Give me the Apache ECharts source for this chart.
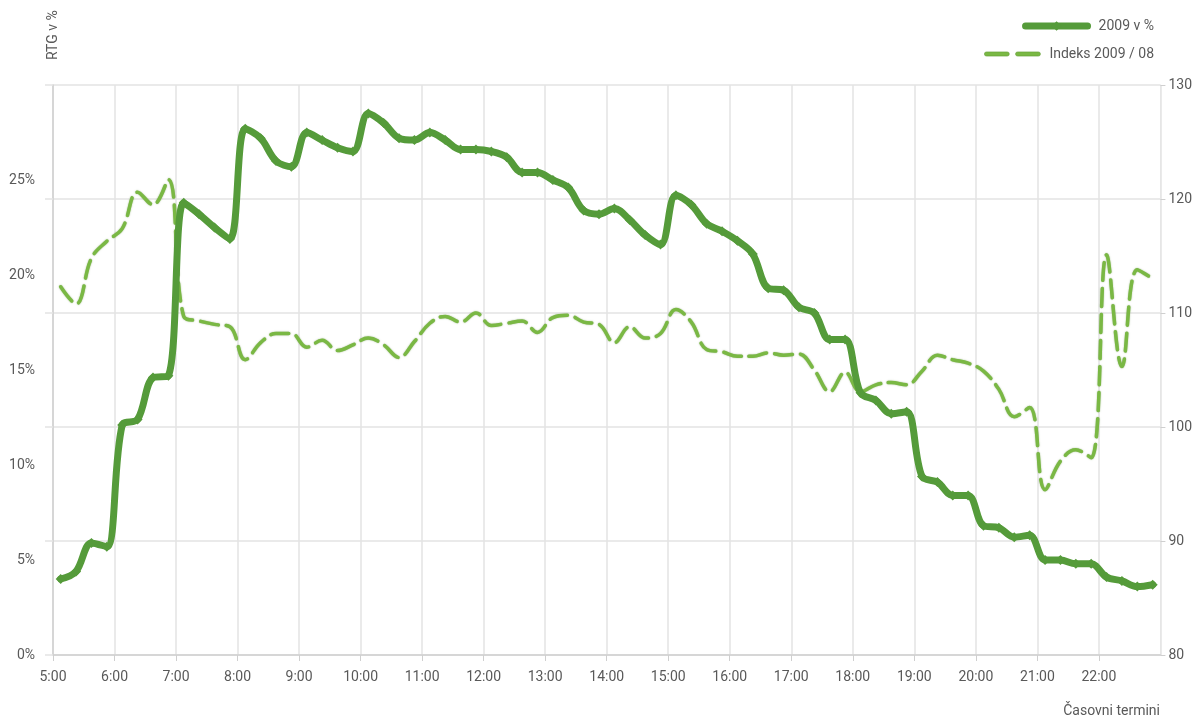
<!DOCTYPE html>
<html>
<head>
<meta charset="utf-8">
<script src="https://cdn.jsdelivr.net/npm/echarts@6/dist/echarts.min.js"></script>
<style>
  html, body { margin: 0; padding: 0; background: #fff; }
  #chart-container { width: 1195px; height: 722px; }
</style>
</head>
<body>
<div id="chart-container"></div>
<script>
// quarter-hour slots 5:00 - 23:00, plotted at slot middle (minutes of day)
var slots = [];
for (var h = 5; h < 23; h++) {
  for (var q = 0; q < 4; q++) slots.push(h * 60 + q * 15 + 7.5);
}

// RTG v % (left axis)
var rtg2009 = [
  4.0, 4.4, 5.9, 5.7,
  12.1, 12.4, 14.6, 14.7,
  23.8, 23.2, 22.5, 21.9,
  27.7, 27.2, 26.0, 25.7,
  27.5, 27.1, 26.7, 26.5,
  28.5, 28.0, 27.2, 27.1,
  27.5, 27.1, 26.6, 26.6,
  26.5, 26.2, 25.4, 25.4,
  25.0, 24.6, 23.4, 23.2,
  23.5, 22.9, 22.1, 21.6,
  24.2, 23.7, 22.7, 22.3,
  21.8, 21.1, 19.3, 19.2,
  18.3, 18.0, 16.6, 16.6,
  13.8, 13.4, 12.7, 12.8,
  9.4, 9.1, 8.4, 8.4,
  6.8, 6.7, 6.2, 6.3,
  5.0, 5.0, 4.8, 4.8,
  4.1, 3.9, 3.6, 3.7
];

// Indeks 2009 / 08 (right axis)
var indeks = [
  112.3, 110.8, 114.8, 116.3,
  117.4, 120.6, 119.5, 121.7,
  109.7, 109.3, 109.0, 108.8,
  105.9, 107.4, 108.2, 108.2,
  107.0, 107.6, 106.7, 107.2,
  107.8, 107.2, 106.1, 107.5,
  109.1, 109.7, 109.2, 110.0,
  108.9, 109.1, 109.3, 108.3,
  109.6, 109.8, 109.2, 109.0,
  107.4, 108.8, 107.8, 108.2,
  110.3, 109.2, 106.8, 106.6,
  106.2, 106.2, 106.5, 106.3,
  106.4, 105.0, 103.1, 104.8,
  103.1, 103.7, 103.9, 103.7,
  104.9, 106.3, 105.9, 105.6,
  104.9, 103.3, 100.9, 101.7,
  94.5, 97.0, 98.0, 97.3,
  115.1, 105.3, 113.8, 113.0
];

var seriesNames = ["2009 v %", "Indeks 2009 / 08"];
var leftTitle = "RTG v %";
var bottomTitle = "Časovni termini";

var FONT = "Roboto, 'DejaVu Sans', sans-serif";
var TXT = "#595959";
var GRID = "#e3e3e3";
var DARK = "#559b3a";
var LIGHT = "#7ab844";

var dom = document.getElementById("chart-container");
var myChart = echarts.init(dom, null, { renderer: "canvas" });

var option = {
  animation: false,
  textStyle: { fontFamily: FONT },
  grid: { left: 53, right: 31, top: 85, bottom: 67 },
  legend: [
    {
      data: [seriesNames[0]],
      right: 36, top: 14,
      itemWidth: 62, itemHeight: 12, itemGap: 8,
      lineStyle: { width: "inherit" },
      textStyle: { color: TXT, fontSize: 14, fontFamily: FONT, padding: [0, 0, 0, 6] }
    },
    {
      data: [{
        name: seriesNames[1],
        icon: "path://M2,0L22,0A2,2 0 0 1 22,4L2,4A2,2 0 0 1 2,0Z M32,0L52,0A2,2 0 0 1 52,4L32,4A2,2 0 0 1 32,0Z"
      }],
      right: 36, top: 42,
      itemWidth: 56, itemHeight: 5, itemGap: 8,
      itemStyle: { color: LIGHT, borderColor: "#5f9a30", borderWidth: 0.6 },
      textStyle: { color: TXT, fontSize: 14, fontFamily: FONT, padding: [0, 0, 0, 4] }
    }
  ],
  xAxis: {
    type: "value",
    min: 300, max: 1380, interval: 60,
    axisLine: { show: true, lineStyle: { color: "#cfcfcf", width: 1.5 } },
    axisTick: { show: true, length: 6, lineStyle: { color: "#cfcfcf" } },
    splitLine: { show: true, lineStyle: { color: GRID, width: 1.5 } },
    axisLabel: {
      color: TXT, fontSize: 14, margin: 15, showMaxLabel: false,
      formatter: function (v) { return Math.floor(v / 60) + ":00"; }
    }
  },
  yAxis: [
    {
      type: "value", position: "left",
      min: 0, max: 30, interval: 5,
      name: leftTitle, nameLocation: "end", nameRotate: 90, nameGap: 25,
      nameTextStyle: { color: TXT, fontSize: 14, align: "left", verticalAlign: "middle", padding: [0, 0, 6, 0] },
      axisLine: { show: true, lineStyle: { color: "#cfcfcf", width: 1.5 } },
      axisTick: { show: false },
      splitLine: { show: false },
      axisLabel: { color: TXT, fontSize: 14, margin: 18, showMaxLabel: false, formatter: "{value}%" }
    },
    {
      type: "value", position: "right",
      min: 80, max: 130, interval: 10,
      axisLine: { show: true, lineStyle: { color: "#e6e6e6", width: 1 } },
      axisTick: { show: true, length: 5, lineStyle: { color: "#cfcfcf" } },
      splitLine: { show: true, lineStyle: { color: GRID, width: 1.5 } },
      axisLabel: { color: TXT, fontSize: 14, margin: 8 }
    },
    {
      // left tick marks that line up with the grid
      type: "value", position: "left",
      min: 80, max: 130, interval: 10,
      axisLine: { show: false },
      axisTick: { show: true, length: 8, lineStyle: { color: GRID, width: 1.5 } },
      splitLine: { show: false },
      axisLabel: { show: false }
    }
  ],
  graphic: [
    {
      type: "text", right: 35, bottom: 4,
      style: { text: bottomTitle, fill: TXT, font: "14px " + FONT }
    }
  ],
  series: [
    {
      name: seriesNames[1],
      type: "line",
      yAxisIndex: 1,
      smooth: 0.4,
      symbol: "none",
      z: 2,
      lineStyle: {
        color: LIGHT, width: 3.5, type: [18, 8], cap: "round",
        shadowColor: "rgba(70,120,30,0.55)", shadowBlur: 1.5
      },
      itemStyle: { color: LIGHT },
      data: slots.map(function (t, i) { return [t, indeks[i]]; })
    },
    {
      name: seriesNames[0],
      type: "line",
      yAxisIndex: 0,
      smooth: 0.35,
      symbol: "diamond",
      symbolSize: 10,
      showSymbol: true,
      z: 3,
      lineStyle: { color: DARK, width: 7, cap: "round", join: "round" },
      itemStyle: { color: DARK },
      data: slots.map(function (t, i) { return [t, rtg2009[i]]; })
    }
  ]
};

myChart.setOption(option);
window.addEventListener("resize", myChart.resize);
</script>
</body>
</html>
